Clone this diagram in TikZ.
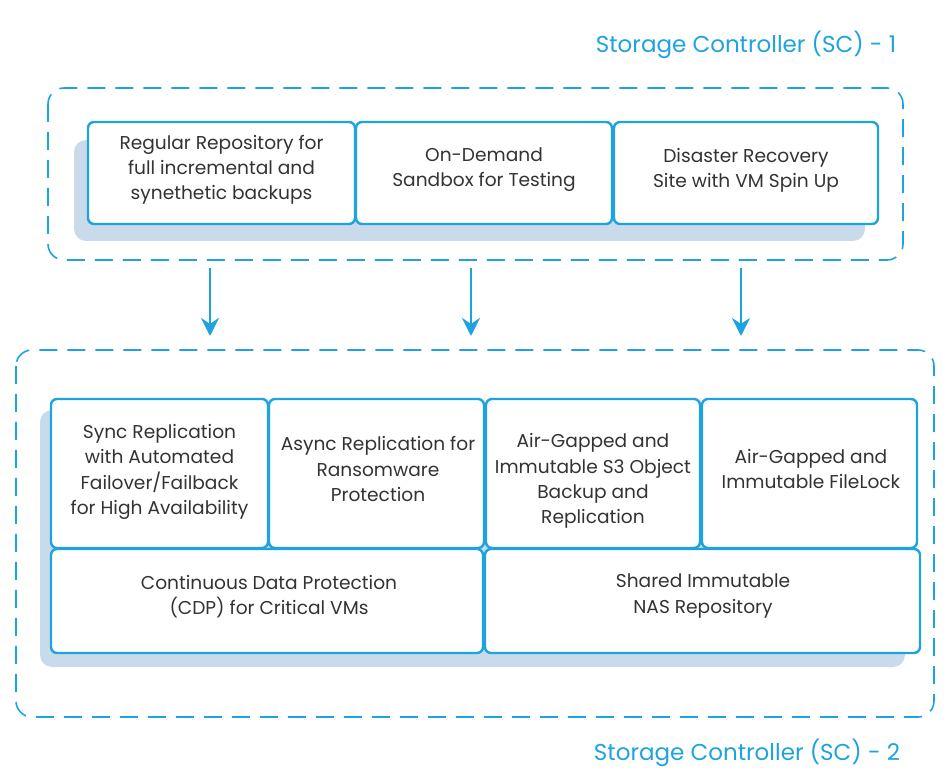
\documentclass[tikz,border=0pt]{standalone}
\usepackage{fontspec}
\setmainfont{Poppins}
\usetikzlibrary{arrows.meta}
\definecolor{scblue}{HTML}{1FA3DF}
\definecolor{scshade}{HTML}{C9DBEA}
\definecolor{sctext}{HTML}{333333}
\tikzset{
  card/.style={draw=scblue, line width=1.2pt, fill=white, rounded corners=3pt},
  cardtext/.style={text=sctext, font=\fontsize{9.3}{12.6}\selectfont, align=center},
  zone/.style={draw=scblue, line width=0.8pt, dash pattern=on 9pt off 5pt, rounded corners=8pt},
  shade/.style={fill=scshade, rounded corners=6pt},
  title/.style={text=scblue, font=\fontsize{11.5}{14}\selectfont},
  flow/.style={-{Stealth[length=9pt,width=9pt]}, draw=scblue, line width=1.2pt}
}
\begin{document}
\begin{tikzpicture}[x=0.5pt,y=-0.5pt]
\useasboundingbox (0,0) rectangle (950,781);
% controller 1
\node[title] (t1) at (746,45) {Storage Controller (SC) - 1};
\draw[zone] (48,88) rectangle (903,260);
\fill[shade] (74,140) rectangle (865,241);
\draw[card] (88,122) rectangle (355,224);
\draw[card] (356,122) rectangle (612,224);
\draw[card] (614,122) rectangle (878,224);
\node[cardtext] (repo) at (221.5,170) {Regular Repository for\\full incremental and\\synethetic backups};
\node[cardtext] (sandbox) at (484,170) {On-Demand\\Sandbox for Testing};
\node[cardtext] (dr) at (746,170) {Disaster Recovery\\Site with VM Spin Up};
% arrows
\coordinate (a1) at (210,268); \coordinate (b1) at (210,336);
\coordinate (a2) at (471,268); \coordinate (b2) at (471,336);
\coordinate (a3) at (741,268); \coordinate (b3) at (741,336);
\draw[flow] (a1) -- (b1);
\draw[flow] (a2) -- (b2);
\draw[flow] (a3) -- (b3);
% controller 2
\draw[zone] (16,350) rectangle (934,717);
\fill[shade] (40,410) rectangle (905,667);
\draw[card] (51,399) rectangle (268,548);
\draw[card] (269,399) rectangle (484,548);
\draw[card] (486,399) rectangle (700,548);
\draw[card] (702,399) rectangle (917,548);
\draw[card] (51,549) rectangle (483,653);
\draw[card] (485,549) rectangle (920,653);
\node[cardtext] (sync) at (159.5,472) {Sync Replication\\with Automated\\Failover/Failback\\for High Availability};
\node[cardtext] (async) at (378,469) {Async Replication for\\Ransomware\\Protection};
\node[cardtext] (s3) at (593,481) {Air-Gapped and\\Immutable S3 Object\\Backup and\\Replication};
\node[cardtext] (filelock) at (811,469) {Air-Gapped and\\Immutable FileLock};
\node[cardtext] (cdp) at (269,597) {Continuous Data Protection\\(CDP) for Critical VMs};
\node[cardtext] (nas) at (703,596) {Shared Immutable\\NAS Repository};
\node[title] (t2) at (747,753) {Storage Controller (SC) - 2};
\end{tikzpicture}
\end{document}
